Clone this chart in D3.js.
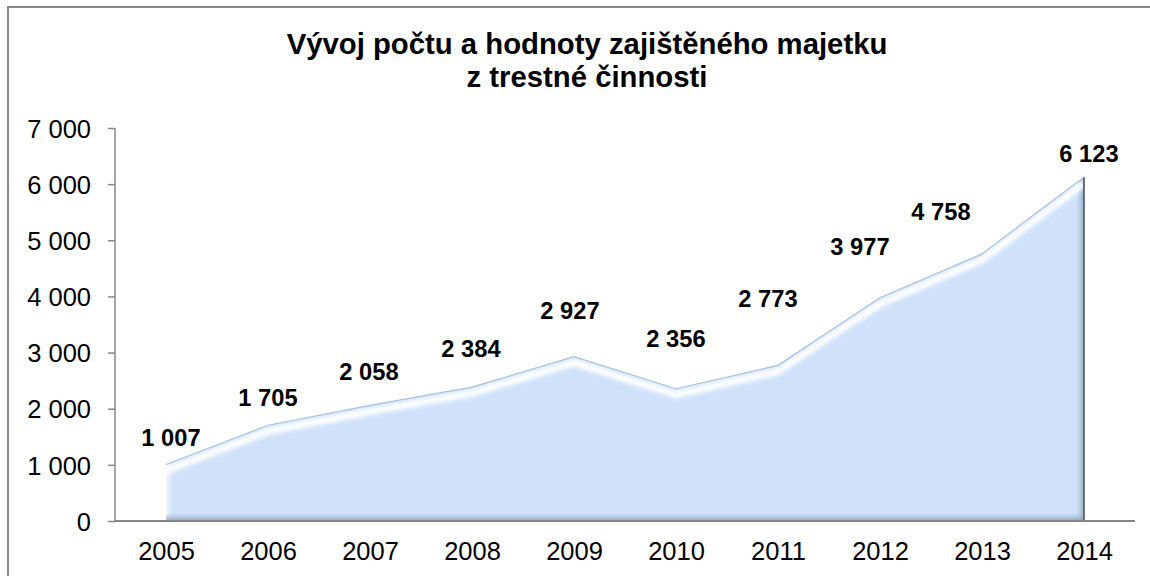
<!DOCTYPE html>
<html lang="cs">
  <head>
    <meta charset="utf-8"/>
    <title>Vývoj počtu a hodnoty zajištěného majetku z trestné činnosti</title>
    <style>
      body { margin: 0; background: #fff; }
      text { font-family: "Liberation Sans", Arial, sans-serif; }
      .title { font-size: 29.3px; font-weight: bold; fill: #000; }
      .tick text { font-size: 25.5px; fill: #000; }
      .val { font-size: 23.7px; font-weight: bold; fill: #000; }
    </style>
  </head>
  <body>
    <script src="https://cdn.jsdelivr.net/npm/d3@7"></script>
    <script>
      // ---- data ----
      var years = ["2005", "2006", "2007", "2008", "2009", "2010", "2011", "2012", "2013", "2014"];
      var counts = [1007, 1705, 2058, 2384, 2927, 2356, 2773, 3977, 4758, 6123];
      var yTicks = [0, 1000, 2000, 3000, 4000, 5000, 6000, 7000];
      var titleLines = ["Vývoj počtu a hodnoty zajištěného majetku", "z trestné činnosti"];

      // labels were nudged by hand in the original, offsets in px from the point
      var labelDx = [5, 0, -1, -1, -4, 0, -10, -20, -41, 5];
      var labelDy = [-18, -19, -25, -30, -38, -42, -58, -43, -34, -15];

      var W = 1150, H = 576;
      var plotLeft = 115, plotRight = 1135, plotTop = 128, plotBottom = 521;

      var data = years.map(function(y, i) { return { year: y, value: counts[i] }; });

      var cz = d3.formatLocale({ decimal: ",", thousands: "\u00a0", grouping: [3], currency: ["", ""] });
      var fmt = cz.format(",.0f");

      var x = d3.scalePoint()
        .domain(years)
        .range([plotLeft, plotRight])
        .padding(0.5);

      var y = d3.scaleLinear()
        .domain([0, 7000])
        .range([plotBottom, plotTop]);

      var svg = d3.select("body")
        .append("svg")
          .attr("width", W)
          .attr("height", H);

      // outer frame (right/bottom edges fall outside the picture)
      svg.append("rect")
        .attr("x", 8)
        .attr("y", 7)
        .attr("width", W + 20)
        .attr("height", H + 20)
        .attr("fill", "none")
        .attr("stroke", "#8a8a8a")
        .attr("stroke-width", 2);

      // title
      svg.append("text")
        .attr("class", "title")
        .attr("text-anchor", "middle")
        .selectAll("tspan")
        .data(titleLines)
        .enter().append("tspan")
          .attr("x", 587)
          .attr("y", function(d, i) { return 54 + i * 33; })
          .text(function(d) { return d; });

      var defs = svg.append("defs");

      var area = d3.area()
        .x(function(d) { return x(d.year); })
        .y0(plotBottom)
        .y1(function(d) { return y(d.value); });

      var topLine = d3.line()
        .x(function(d) { return x(d.year); })
        .y(function(d) { return y(d.value); });

      defs.append("clipPath")
        .attr("id", "areaClip")
        .append("path")
          .attr("d", area(data));

      defs.append("filter")
        .attr("id", "soft")
        .attr("x", "-10%").attr("y", "-50%")
        .attr("width", "120%").attr("height", "200%")
        .append("feGaussianBlur")
          .attr("stdDeviation", 2.2);

      var gRight = defs.append("linearGradient")
        .attr("id", "shadeRight")
        .attr("x1", 0).attr("x2", 1).attr("y1", 0).attr("y2", 0);
      gRight.append("stop").attr("offset", "0%").attr("stop-color", "#9fb3ca").attr("stop-opacity", 0);
      gRight.append("stop").attr("offset", "100%").attr("stop-color", "#8095ad").attr("stop-opacity", 0.7);

      var gBottom = defs.append("linearGradient")
        .attr("id", "shadeBottom")
        .attr("x1", 0).attr("x2", 0).attr("y1", 0).attr("y2", 1);
      gBottom.append("stop").attr("offset", "0%").attr("stop-color", "#9fb3ca").attr("stop-opacity", 0);
      gBottom.append("stop").attr("offset", "100%").attr("stop-color", "#8a9bb0").attr("stop-opacity", 0.85);

      var gLeft = defs.append("linearGradient")
        .attr("id", "shadeLeft")
        .attr("x1", 0).attr("x2", 1).attr("y1", 0).attr("y2", 0);
      gLeft.append("stop").attr("offset", "0%").attr("stop-color", "#ffffff").attr("stop-opacity", 0.8);
      gLeft.append("stop").attr("offset", "100%").attr("stop-color", "#ffffff").attr("stop-opacity", 0);

      // ---- the area with its bevel ----
      var g = svg.append("g").attr("clip-path", "url(#areaClip)");

      g.append("path")
        .attr("d", area(data))
        .attr("fill", "#cfe2fa");

      g.append("rect")
        .attr("x", x(years[0]))
        .attr("y", plotTop)
        .attr("width", 7)
        .attr("height", plotBottom - plotTop)
        .attr("fill", "url(#shadeLeft)");

      g.append("rect")
        .attr("x", x(years[years.length - 1]) - 8)
        .attr("y", plotTop)
        .attr("width", 8)
        .attr("height", plotBottom - plotTop)
        .attr("fill", "url(#shadeRight)");

      g.append("rect")
        .attr("x", plotLeft)
        .attr("y", plotBottom - 8)
        .attr("width", plotRight - plotLeft)
        .attr("height", 8)
        .attr("fill", "url(#shadeBottom)");

      g.append("path")
        .attr("d", topLine(data))
        .attr("transform", "translate(0,6)")
        .attr("fill", "none")
        .attr("stroke", "#ffffff")
        .attr("stroke-width", 7)
        .attr("stroke-linejoin", "round")
        .attr("filter", "url(#soft)");

      svg.append("path")
        .attr("d", topLine(data))
        .attr("fill", "none")
        .attr("stroke", "#a6c1e2")
        .attr("stroke-width", 1.2);

      svg.append("line")
        .attr("x1", x(years[years.length - 1]))
        .attr("x2", x(years[years.length - 1]))
        .attr("y1", y(counts[counts.length - 1]))
        .attr("y2", plotBottom)
        .attr("stroke", "#414c58")
        .attr("stroke-width", 1.5);

      // ---- axes ----
      var yAxis = svg.append("g")
        .attr("transform", "translate(" + plotLeft + ",0)")
        .call(d3.axisLeft(y)
          .tickValues(yTicks)
          .tickSize(7)
          .tickPadding(17)
          .tickFormat(fmt));
      yAxis.selectAll("line, path").attr("stroke", "#868686").attr("stroke-width", 1.5);
      yAxis.select(".domain").attr("d", "M0," + plotTop + "V" + plotBottom);
      yAxis.selectAll("text").attr("dy", "0.36em");

      var xAxis = svg.append("g")
        .attr("transform", "translate(0," + plotBottom + ")")
        .call(d3.axisBottom(x)
          .tickSize(0)
          .tickPadding(21));
      xAxis.select(".domain")
        .attr("d", "M" + plotLeft + ",0H" + plotRight)
        .attr("stroke", "#868686")
        .attr("stroke-width", 2);

      // ---- value labels ----
      svg.append("g")
        .selectAll("text")
        .data(data)
        .enter().append("text")
          .attr("class", "val")
          .attr("text-anchor", "middle")
          .attr("x", function(d, i) { return x(d.year) + labelDx[i]; })
          .attr("y", function(d, i) { return y(d.value) + labelDy[i]; })
          .text(function(d) { return fmt(d.value); });
    </script>
  </body>
</html>
